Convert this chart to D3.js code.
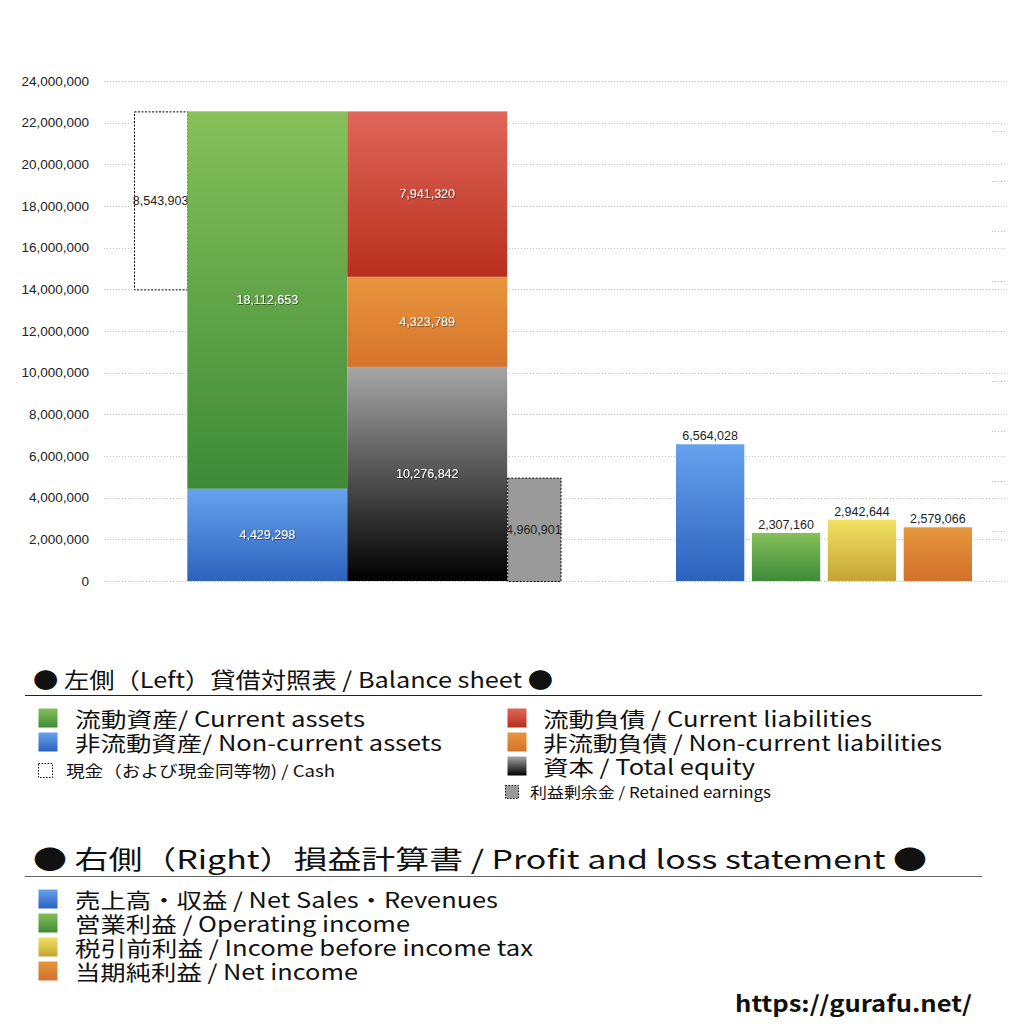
<!DOCTYPE html>
<html>
<head>
<meta charset="utf-8">
<script src="https://cdn.jsdelivr.net/npm/d3@7"></script>
<style>
  body { margin: 0; background: #fff; }
  svg text { font-family: "Noto Sans CJK JP", "Noto Sans", sans-serif; }
  svg text.num { font-family: "Liberation Sans", Arial, sans-serif; }
</style>
</head>
<body>
<svg id="chart" width="1024" height="1024"></svg>
<script>
// balance sheet (left side)
var assetNames = ["非流動資産", "流動資産"];
var assetValues = [4429298, 18112653];
var liabNames = ["資本", "非流動負債", "流動負債"];
var liabValues = [10276842, 4323789, 7941320];
var cashValue = 8543903;
var retainedValue = 4960901;

// profit and loss (right side)
var plNames = ["売上高・収益", "営業利益", "税引前利益", "当期純利益"];
var plValues = [6564028, 2307160, 2942644, 2579066];

var yTicks = [0, 2000000, 4000000, 6000000, 8000000, 10000000, 12000000,
  14000000, 16000000, 18000000, 20000000, 22000000, 24000000];

var svg = d3.select("#chart");
var fmt = d3.format(",");

var y = d3.scaleLinear().domain([0, 24000000]).range([581, 81]);
// balance sheet columns laid out in units: cash | assets | liabilities | retained
var xb = d3.scaleLinear().domain([0, 8]).range([134, 560.5]);
var xp = d3.scaleBand().domain(plNames).range([676, 972]).paddingInner(0.1);
var y2 = d3.scaleLinear().domain([0, 10]).range([581, 81]);

// gradients
var defs = svg.append("defs");
function grad(id, top, bottom) {
  var g = defs.append("linearGradient").attr("id", id)
    .attr("x1", 0).attr("y1", 0).attr("x2", 0).attr("y2", 1);
  g.append("stop").attr("offset", "0%").attr("stop-color", top);
  g.append("stop").attr("offset", "100%").attr("stop-color", bottom);
}
grad("gGreen", "#86c05a", "#3d8a38");
grad("gBlue", "#66a2ee", "#2c62bd");
grad("gRed", "#df665a", "#b8301c");
grad("gOrange", "#e8953e", "#d6732b");
grad("gBlack", "#a6a6a6", "#000000");
grad("gYellow", "#f2e262", "#c4a434");
grad("gOrange2", "#e5963e", "#d3702b");
var f = defs.append("filter").attr("id", "shadow")
  .attr("x", "-10%").attr("y", "-30%").attr("width", "120%").attr("height", "160%");
f.append("feDropShadow").attr("dx", 0.6).attr("dy", 0.6).attr("stdDeviation", 0.5)
  .attr("flood-color", "#000").attr("flood-opacity", 0.7);

// grid lines
svg.append("g").selectAll("line").data(yTicks).join("line")
  .attr("x1", 104).attr("x2", 1005)
  .attr("y1", function(d) { return Math.round(y(d)) + 0.5; })
  .attr("y2", function(d) { return Math.round(y(d)) + 0.5; })
  .attr("stroke", "#c8c8c8").attr("stroke-width", 1).attr("stroke-dasharray", "1,2");

// left axis
var yAxis = d3.axisLeft(y).tickValues(yTicks).tickFormat(fmt).tickSize(0).tickPadding(0);
var ga = svg.append("g").attr("transform", "translate(89,0)").call(yAxis);
ga.select(".domain").remove();
ga.selectAll("text").attr("class", "num").attr("font-size", 13.5).attr("fill", "#222");

// unlabelled secondary ticks on the right
svg.append("g").selectAll("line").data(d3.range(1, 10)).join("line")
  .attr("x1", 992).attr("x2", 1005)
  .attr("y1", function(d) { return Math.round(y2(d)) + 0.5; })
  .attr("y2", function(d) { return Math.round(y2(d)) + 0.5; })
  .attr("stroke", "#bbb").attr("stroke-dasharray", "1,2");

// stacked segments
function stack(values) {
  var acc = 0;
  return values.map(function(v, i) { var s = { i: i, v: v, y0: acc, y1: acc + v }; acc += v; return s; });
}
var total = d3.sum(assetValues);
var assetSegs = stack(assetValues);
var liabSegs = stack(liabValues);
var assetFills = ["url(#gBlue)", "url(#gGreen)"];
var liabFills = ["url(#gBlack)", "url(#gOrange)", "url(#gRed)"];

function drawStack(segs, fills, u0, u1) {
  var g = svg.append("g");
  g.selectAll("rect").data(segs).join("rect")
    .attr("x", xb(u0)).attr("width", xb(u1) - xb(u0))
    .attr("y", function(d) { return y(d.y1); })
    .attr("height", function(d) { return y(d.y0) - y(d.y1); })
    .attr("fill", function(d) { return fills[d.i]; });
  g.selectAll("text").data(segs).join("text")
    .attr("class", "num")
    .attr("x", (xb(u0) + xb(u1)) / 2)
    .attr("y", function(d) { return (y(d.y0) + y(d.y1)) / 2; })
    .attr("dy", "0.35em").attr("text-anchor", "middle")
    .attr("font-size", 12.5).attr("fill", "#fff").attr("filter", "url(#shadow)")
    .text(function(d) { return fmt(d.v); });
}

// cash box (dotted, aligned to the top of assets)
svg.append("rect")
  .attr("x", xb(0) + 0.5).attr("width", xb(1) - xb(0))
  .attr("y", y(total) + 0.5).attr("height", y(total - cashValue) - y(total))
  .attr("fill", "#fff").attr("stroke", "#000").attr("stroke-dasharray", "2,1.5");
svg.append("text").attr("class", "num")
  .attr("x", (xb(0) + xb(1)) / 2).attr("y", (y(total) + y(total - cashValue)) / 2)
  .attr("dy", "0.35em").attr("text-anchor", "middle").attr("font-size", 12.5).attr("fill", "#222")
  .text(fmt(cashValue));

drawStack(assetSegs, assetFills, 1, 4);
drawStack(liabSegs, liabFills, 4, 7);

// retained earnings box
svg.append("rect")
  .attr("x", xb(7) + 0.5).attr("width", xb(8) - xb(7))
  .attr("y", y(retainedValue) + 0.5).attr("height", y(0) - y(retainedValue))
  .attr("fill", "#9a9a9a").attr("stroke", "#000").attr("stroke-dasharray", "2,1.5");
svg.append("text").attr("class", "num")
  .attr("x", (xb(7) + xb(8)) / 2).attr("y", (y(retainedValue) + y(0)) / 2)
  .attr("dy", "0.35em").attr("text-anchor", "middle").attr("font-size", 12.5).attr("fill", "#222")
  .text(fmt(retainedValue));

// profit and loss bars
var plFills = ["url(#gBlue)", "url(#gGreen)", "url(#gYellow)", "url(#gOrange2)"];
var gp = svg.append("g");
gp.selectAll("rect").data(plValues).join("rect")
  .attr("x", function(d, i) { return xp(plNames[i]); })
  .attr("width", xp.bandwidth())
  .attr("y", function(d) { return y(d); })
  .attr("height", function(d) { return y(0) - y(d); })
  .attr("fill", function(d, i) { return plFills[i]; });
gp.selectAll("text").data(plValues).join("text")
  .attr("class", "num")
  .attr("x", function(d, i) { return xp(plNames[i]) + xp.bandwidth() / 2; })
  .attr("y", function(d) { return y(d) - 4; })
  .attr("text-anchor", "middle").attr("font-size", 12.5).attr("fill", "#222")
  .text(function(d) { return fmt(d); });

// legends
function header(txt, yy, w, fs, lineColor) {
  svg.append("text").attr("x", 33).attr("y", yy).attr("font-size", fs).attr("fill", "#111")
    .attr("textLength", w).attr("lengthAdjust", "spacingAndGlyphs").text(txt);
  svg.append("line").attr("x1", 25).attr("x2", 982).attr("y1", yy + 7.5).attr("y2", yy + 7.5)
    .attr("stroke", lineColor).attr("stroke-width", 1.2);
}
function item(sx, tx, yy, size, fill, dashed, txt, fs, w) {
  svg.append("rect").attr("x", sx + 0.5).attr("y", yy - size + 0.5).attr("width", size).attr("height", size)
    .attr("fill", fill).attr("stroke", dashed ? "#000" : "none").attr("stroke-dasharray", dashed ? "1.5,1.5" : null);
  svg.append("text").attr("x", tx).attr("y", yy).attr("font-size", fs).attr("fill", "#111")
    .attr("textLength", w).attr("lengthAdjust", "spacingAndGlyphs").text(txt);
}

header("● 左側（Left）貸借対照表 / Balance sheet ●", 688, 520, 22, "#222");
item(38, 75, 727, 19, "url(#gGreen)", false, "流動資産/ Current assets", 21, 290);
item(38, 75, 751, 19, "url(#gBlue)", false, "非流動資産/ Non-current assets", 21, 367);
item(38, 66, 777, 14, "#fff", true, "現金（および現金同等物) / Cash", 16, 269);
item(507, 543, 727, 19, "url(#gRed)", false, "流動負債 /  Current liabilities", 21, 329);
item(507, 543, 751, 19, "url(#gOrange)", false, "非流動負債 / Non-current liabilities", 21, 399);
item(507, 543, 775, 19, "url(#gBlack)", false, "資本 / Total equity", 21, 212);
item(505, 530, 798, 13, "#9a9a9a", true, "利益剰余金 / Retained earnings", 15, 241);

header("● 右側（Right）損益計算書 / Profit and loss statement ●", 869, 894, 26, "#666");
item(38, 75, 908, 19, "url(#gBlue)", false, "売上高・収益 / Net Sales・Revenues", 21, 423);
item(38, 75, 932, 19, "url(#gGreen)", false, "営業利益 / Operating income", 21, 335);
item(38, 75, 956, 19, "url(#gYellow)", false, "税引前利益 / Income before income tax", 21, 458);
item(38, 75, 980, 19, "url(#gOrange2)", false, "当期純利益 / Net income", 21, 283);

svg.append("text").attr("x", 735).attr("y", 1012).attr("font-size", 22).attr("font-weight", "bold")
  .attr("fill", "#111").attr("textLength", 237).attr("lengthAdjust", "spacingAndGlyphs")
  .attr("font-family", "'DejaVu Sans', sans-serif")
  .text("https://gurafu.net/");
</script>
</body>
</html>
